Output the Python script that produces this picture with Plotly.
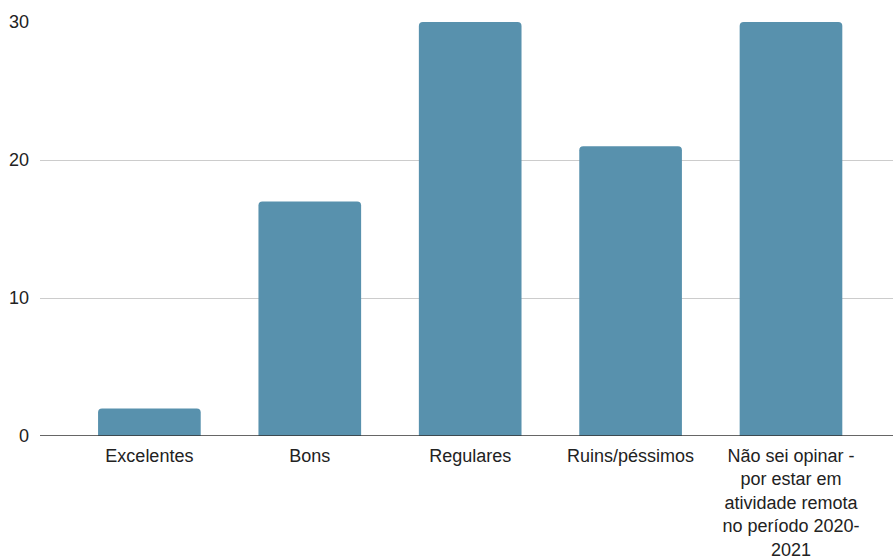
import plotly.graph_objects as go

categories = ["Excelentes", "Bons", "Regulares", "Ruins/péssimos",
              "Não sei opinar -<br>por estar em<br>atividade remota<br>no período 2020-<br>2021"]
values = [2, 17, 30, 21, 30]
y_ticks = [0, 10, 20, 30]

fig = go.Figure(go.Bar(
    x=list(range(len(categories))), y=values,
    marker=dict(color="#5891ad", cornerradius=4, line=dict(width=0)),
    width=0.64,
))

fig.update_layout(
    width=893, height=560,
    margin=dict(l=40, r=0, t=22, b=124),
    paper_bgcolor="white", plot_bgcolor="white",
    font=dict(family="Liberation Sans, Arial, sans-serif", size=18, color="#222222"),
    showlegend=False,
    xaxis=dict(
        range=[-0.682, 4.636], automargin=False,
        tickmode="array", tickvals=list(range(len(categories))), ticktext=categories,
        showgrid=False, showline=False, zeroline=False, ticks="",
        tickangle=0, tickfont=dict(size=18), ticklabelstandoff=7,
    ),
    yaxis=dict(
        range=[0, 30], tickvals=y_ticks, showgrid=True, gridcolor="#cccccc", gridwidth=1,
        zeroline=False, showline=False, ticks="", ticklabelstandoff=10, automargin=False,
    ),
    shapes=[dict(type="line", xref="paper", yref="y", x0=0, x1=1, y0=0, y1=0,
                 line=dict(color="#333333", width=1.5))],
)

fig.write_html("out.html", config={"displayModeBar": False},
               post_script="document.body.style.margin='0';document.body.style.padding='0';")
